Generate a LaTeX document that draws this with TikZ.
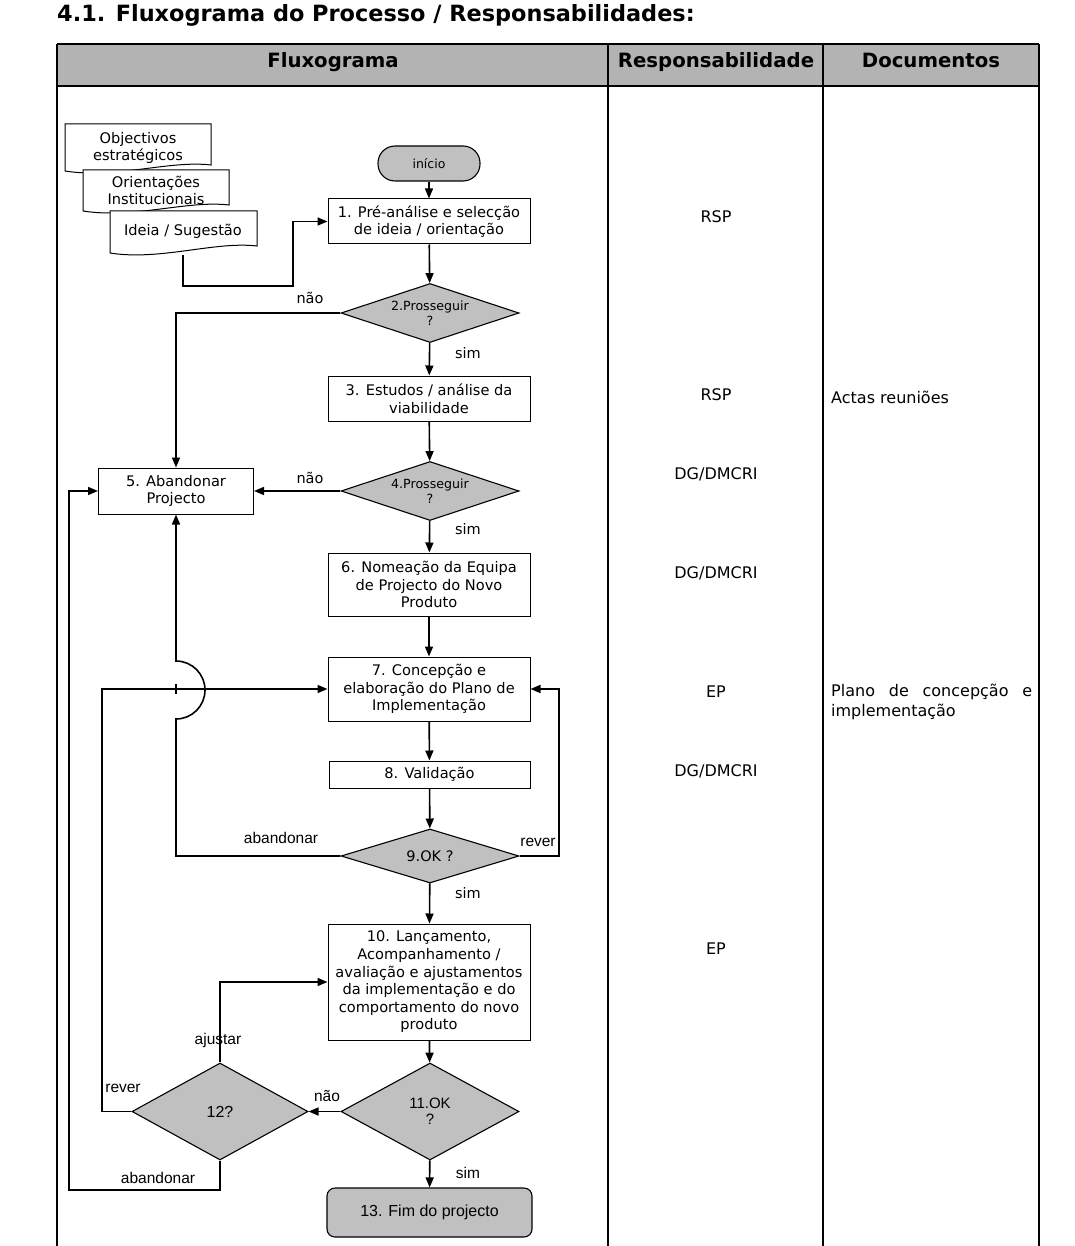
\documentclass[tikz,border=0pt]{standalone}
\usepackage{fontspec}
\setmainfont{DejaVu Sans}
\newfontfamily\lib{Liberation Sans}
\usetikzlibrary{arrows.meta,shapes.geometric}
\definecolor{dgray}{RGB}{192,192,192}
\definecolor{hgray}{RGB}{179,179,179}
\begin{document}
\begin{tikzpicture}[x=1pt,y=-1pt,
  stepbox/.style={draw, line width=1pt, fill=white, minimum width=202pt, inner sep=0pt, align=center, font=\fontsize{14.6}{17.6}\selectfont},
  decision/.style={diamond, draw, line width=1.1pt, fill=dgray, inner sep=0pt, align=center, minimum width=178pt, minimum height=59pt, aspect=3, font=\fontsize{12.6}{15}\selectfont},
  conn/.style={line width=1.6pt, -{Triangle[length=10pt,width=8pt]}},
  docshape/.style={line width=1pt, fill=white},
  doctext/.style={inner sep=0pt, align=center, font=\fontsize{14.6}{17.6}\selectfont},
  lbl/.style={inner sep=0pt, font=\fontsize{14.5}{17}\selectfont},
  albl/.style={inner sep=0pt, font=\lib\fontsize{15.5}{18}\selectfont},
  resp/.style={inner sep=0pt, font=\fontsize{16}{20}\selectfont},
  head/.style={inner sep=0pt, font=\fontsize{19.7}{22}\selectfont\bfseries},
  grid/.style={line width=1.2pt}
]
\useasboundingbox (0,0) rectangle (1074,1246);

% title and table
\node[anchor=base west, inner sep=0pt, font=\fontsize{22.4}{26}\selectfont\bfseries] (title) at (57,22) {4.1. Fluxograma do Processo / Responsabilidades:};
\fill[hgray] (57,44) rectangle (1039,86);
\draw[grid] (57,44) -- (1039,44);
\draw[grid] (57,86) -- (1039,86);
\draw[grid] (57,44) -- (57,1246);
\draw[grid] (608,44) -- (608,1246);
\draw[grid] (823,44) -- (823,1246);
\draw[grid] (1039,44) -- (1039,1246);
\node[head, anchor=base] (h1) at (333,68) {Fluxograma};
\node[head, anchor=base] (h2) at (716,68) {Responsabilidade};
\node[head, anchor=base] (h3) at (931,68) {Documentos};

% document shapes
\draw[docshape] (65,124) -- (211,124) -- (211,165) .. controls (170,160) and (115,179) .. (65,171) -- cycle;
\node[doctext] (o1) at (138,148) {Objectivos\\estratégicos};
\draw[docshape] (83,170) -- (229,170) -- (229,205) .. controls (188,200) and (133,219) .. (83,211) -- cycle;
\node[doctext] (o2) at (156,190.5) {Orientações\\Institucionais};
\draw[docshape] (110,211) -- (257,211) -- (257,246) .. controls (215,241) and (160,261) .. (110,253) -- cycle;
\node[doctext] (o3) at (183,231) {Ideia / Sugestão};
\coordinate (ideiab) at (183,255);

% flow nodes
\node[draw, line width=1.1pt, fill=dgray, rounded corners=17pt, minimum width=102pt, minimum height=35pt, inner sep=0pt, font=\fontsize{12.5}{15}\selectfont] (ini) at (429,163.5) {início};
\node[stepbox, minimum height=45pt] (b1) at (429,221.5) {1. Pré-análise e selecção\\de ideia / orientação};
\node[decision] (d2) at (430,313) {2.Prosseguir\\?};
\node[stepbox, minimum height=45pt] (b3) at (429,398.5) {3. Estudos / análise da\\viabilidade};
\node[decision] (d4) at (430,491) {4.Prosseguir\\?};
\node[stepbox, minimum width=155pt, minimum height=46pt] (b5) at (176,491) {5. Abandonar\\Projecto};
\node[stepbox, minimum height=63pt] (b6) at (429,584.5) {6. Nomeação da Equipa\\de Projecto do Novo\\Produto};
\node[stepbox, minimum height=64pt] (b7) at (429,689) {7. Concepção e\\elaboração do Plano de\\Implementação};
\node[stepbox, minimum width=201pt, minimum height=27pt] (b8) at (429.5,774.5) {8. Validação};
\node[decision, minimum height=54pt, font=\fontsize{14.5}{17}\selectfont] (d9) at (430,856) {9.OK ?};
\node[stepbox, minimum height=116pt] (b10) at (429,982) {10. Lançamento,\\Acompanhamento /\\avaliação e ajustamentos\\da implementação e do\\comportamento do novo\\produto};
\node[decision, minimum height=97pt, aspect=1.8, font=\lib\fontsize{15}{16}\selectfont] (d11) at (430,1111.5) {11.OK\\?};
\node[decision, minimum width=176pt, minimum height=97pt, aspect=1.8, font=\lib\fontsize{16}{18}\selectfont] (d12) at (220,1111.5) {12?};
\node[draw, line width=1.1pt, fill=dgray, rounded corners=8pt, minimum width=205pt, minimum height=49pt, inner sep=0pt, font=\lib\fontsize{16}{18}\selectfont] (b13) at (429.5,1212.5) {13. Fim do projecto};

% connectors
\draw[conn] (ideiab) -- (183,286) -- (293,286) |- (b1.west);
\draw[conn] (ini) -- (b1);
\draw[conn] (b1) -- (d2);
\draw[conn] (d2) -- (b3);
\draw[conn] (b3) -- (d4);
\draw[conn] (d4) -- (b6);
\draw[conn] (d2.west) -| (b5.north);
\draw[conn] (d4.west) -- (b5.east);
\draw[conn] (b6) -- (b7);
\draw[conn] (b7) -- (b8);
\draw[conn] (b8) -- (d9);
\draw[conn] (d9) -- (b10);
\draw[conn] (d9.west) -- (176,856) -- (176,719) arc[start angle=90, end angle=-90, radius=29] -- (b5.south);
\draw[conn] (d9.east) -- (559,856) |- (b7.east);
\draw[conn] (b10) -- (d11);
\draw[conn] (d11) -- (b13);
\draw[conn] (d11.west) -- (d12.east);
\draw[conn] (d12.north) |- (b10.west);
\draw[conn] (d12.west) -- (102,1111.5) |- (b7.west);
\draw[conn] (d12.south) -- (220,1190) -- (69,1190) |- (b5.west);
\draw[line width=1.2pt] (176,684) -- (176,694);

% labels
\node[lbl] (l1) at (310,298) {não};
\node[lbl] (l2) at (468,353) {sim};
\node[lbl] (l3) at (310,478) {não};
\node[lbl] (l4) at (468,529) {sim};
\node[albl] (l5) at (281,838) {abandonar};
\node[albl] (l6) at (538,842) {rever};
\node[lbl] (l7) at (468,893) {sim};
\node[albl] (l8) at (218,1040) {ajustar};
\node[albl] (l9) at (123,1088) {rever};
\node[albl] (l10) at (327,1096) {não};
\node[albl] (l11) at (158,1178) {abandonar};
\node[albl] (l12) at (468,1173) {sim};

% responsibilities
\node[resp] (r1) at (716,217) {RSP};
\node[resp] (r2) at (716,395) {RSP};
\node[resp] (r3) at (716,474) {DG/DMCRI};
\node[resp] (r4) at (716,573) {DG/DMCRI};
\node[resp] (r5) at (716,692) {EP};
\node[resp] (r6) at (716,771) {DG/DMCRI};
\node[resp] (r7) at (716,949) {EP};

% documents
\node[resp, anchor=west] (doc1) at (831,397) {Actas reuniões};
\node[resp, anchor=north west, text width=201pt, align=justify] (doc2) at (831,684) {Plano de concepção e\linebreak implementação};
\end{tikzpicture}
\end{document}
